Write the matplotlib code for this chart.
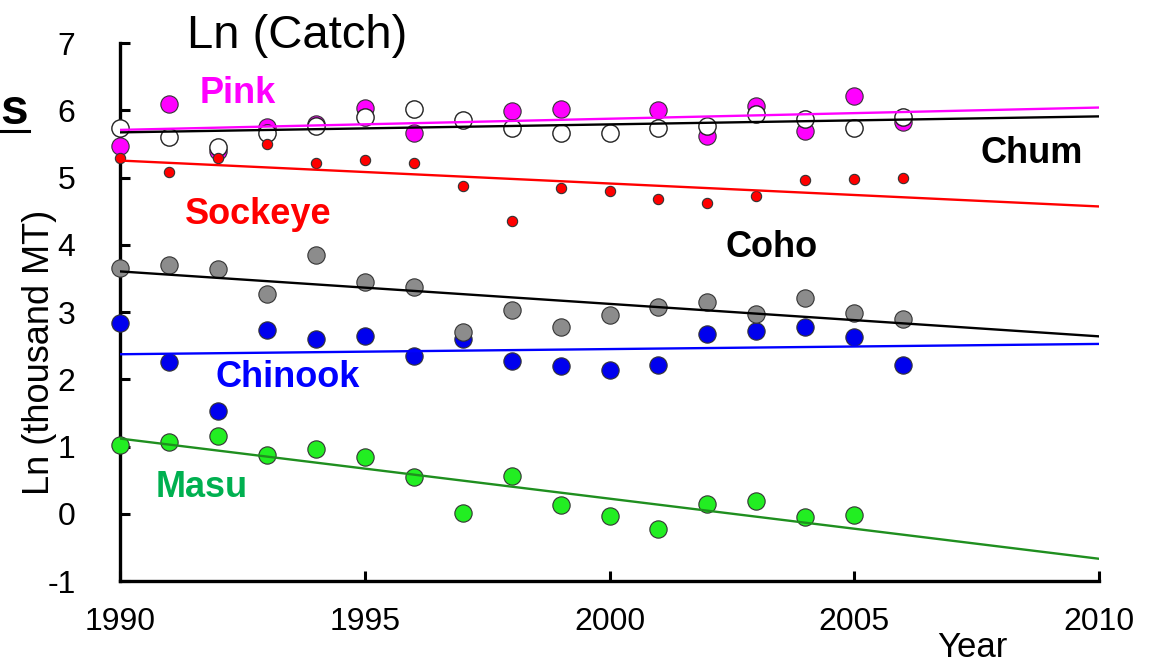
import numpy as np
import matplotlib
matplotlib.use("Agg")
import matplotlib.pyplot as plt

plt.rcParams['font.family'] = ['Liberation Sans', 'DejaVu Sans']

# data: ln(catch, thousand MT)
years = np.arange(1990, 2007)
pink = [5.47, 6.09, 5.40, 5.75, 5.79, 6.03, 5.66, np.nan, 5.99, 6.02,
        np.nan, 6.00, 5.62, 6.06, 5.69, 6.21, 5.82]
chum = [5.73, 5.60, 5.46, 5.66, 5.77, 5.90, 6.02, 5.86, 5.74, 5.66,
        5.66, 5.74, 5.77, 5.95, 5.87, 5.74, 5.90]
sockeye = [5.29, 5.08, 5.29, 5.50, 5.21, 5.26, 5.21, 4.87, 4.35, 4.84,
           4.80, 4.68, 4.62, 4.72, 4.96, 4.98, 4.99]
coho = [3.65, 3.70, 3.64, 3.27, 3.85, 3.45, 3.37, 2.70, 3.03, 2.78,
        2.96, 3.08, 3.15, 2.97, 3.21, 2.99, 2.90]
chinook = [2.84, 2.26, 1.53, 2.74, 2.60, 2.64, 2.34, 2.60, 2.27, 2.19,
           2.14, 2.21, 2.67, 2.72, 2.78, 2.63, 2.21]
masu = [1.02, 1.07, 1.16, 0.87, 0.96, 0.84, 0.55, 0.01, 0.56, 0.13,
        -0.04, -0.22, 0.14, 0.19, -0.05, -0.02, np.nan]

xticks = [1990, 1995, 2000, 2005, 2010]
yticks = [-1, 0, 1, 2, 3, 4, 5, 6, 7]

fig = plt.figure(figsize=(11.51, 6.66), dpi=100)
ax = fig.add_axes([0.1043, 0.1276, 0.8505, 0.8078])


def trend(ax, vals, color, z):
    v = np.array(vals, dtype=float)
    m = ~np.isnan(v)
    k, b = np.polyfit(years[m], v[m], 1)
    xx = np.array([1990, 2010])
    ax.plot(xx, k * xx + b, color=color, lw=1.7, zorder=z)


big = 155
edge = '#333333'
pt = dict(edgecolors=edge, linewidths=0.8, clip_on=False)
# upper group
ax.scatter(years, pink, s=big, c='#ff00ff', zorder=3, **pt)
ax.scatter(years, chum, s=big, c='white', edgecolors='#222222', linewidths=1.0,
           zorder=4, clip_on=False)
ax.scatter(years, sockeye, s=55, c='#ff0000', zorder=5, **pt)
# lower group
ax.scatter(years, masu, s=big, c='#22ee22', zorder=3, **pt)
ax.scatter(years, chinook, s=big, c='#0000ee', zorder=3, **pt)
ax.scatter(years, coho, s=big, c='#8c8c8c', zorder=4, **pt)

trend(ax, pink, '#ff00ff', 6)
trend(ax, chum, 'black', 6)
trend(ax, sockeye, '#ff0000', 6)
trend(ax, coho, 'black', 6)
trend(ax, chinook, '#0000ff', 6)
trend(ax, masu, '#1f8f1f', 6)

# species labels
lab = dict(fontsize=26, fontweight='bold', ha='left', va='baseline', zorder=7)
ax.text(1991.63, 6.11, 'Pink', color='#ff00ff', **lab)
ax.text(1991.33, 4.31, 'Sockeye', color='#ff0000', **lab)
ax.text(2007.57, 5.22, 'Chum', color='black', **lab)
ax.text(2002.36, 3.82, 'Coho', color='black', **lab)
ax.text(1991.94, 1.88, 'Chinook', color='#0000ff', **lab)
ax.text(1990.72, 0.25, 'Masu', color='#00b050', **lab)

ax.set_xlim(1990, 2010)
ax.set_ylim(-1, 7)
ax.set_xticks(xticks)
ax.set_yticks(yticks)
ax.set_xticklabels([str(t) for t in xticks], fontsize=23)
ax.set_yticklabels([str(t) for t in yticks], fontsize=23)
ax.tick_params(axis='x', direction='in', length=7, width=2.2, pad=19)
ax.tick_params(axis='y', direction='in', length=7, width=2.2, pad=32)
for s in ['top', 'right']:
    ax.spines[s].set_visible(False)
for s in ['left', 'bottom']:
    ax.spines[s].set_linewidth(2.4)
ax.set_ylabel('Ln (thousand MT)', fontsize=26)
ax.yaxis.set_label_coords(-0.064, 0.4257)
ax.patch.set_alpha(0)

fig.text(187 / 1151, 1 - 48 / 666, 'Ln (Catch)', fontsize=34, ha='left', va='baseline')
fig.text(972 / 1151, 1 - 657 / 666, 'Year', fontsize=25, ha='center', va='baseline')
fig.text(0.0, 1 - 124 / 666, 's', fontsize=36, fontweight='bold', ha='left', va='baseline')
fig.add_artist(plt.Line2D([0, 29 / 1151], [1 - 131 / 666] * 2, color='black', lw=2.2))

fig.savefig('out.png', dpi=100)
